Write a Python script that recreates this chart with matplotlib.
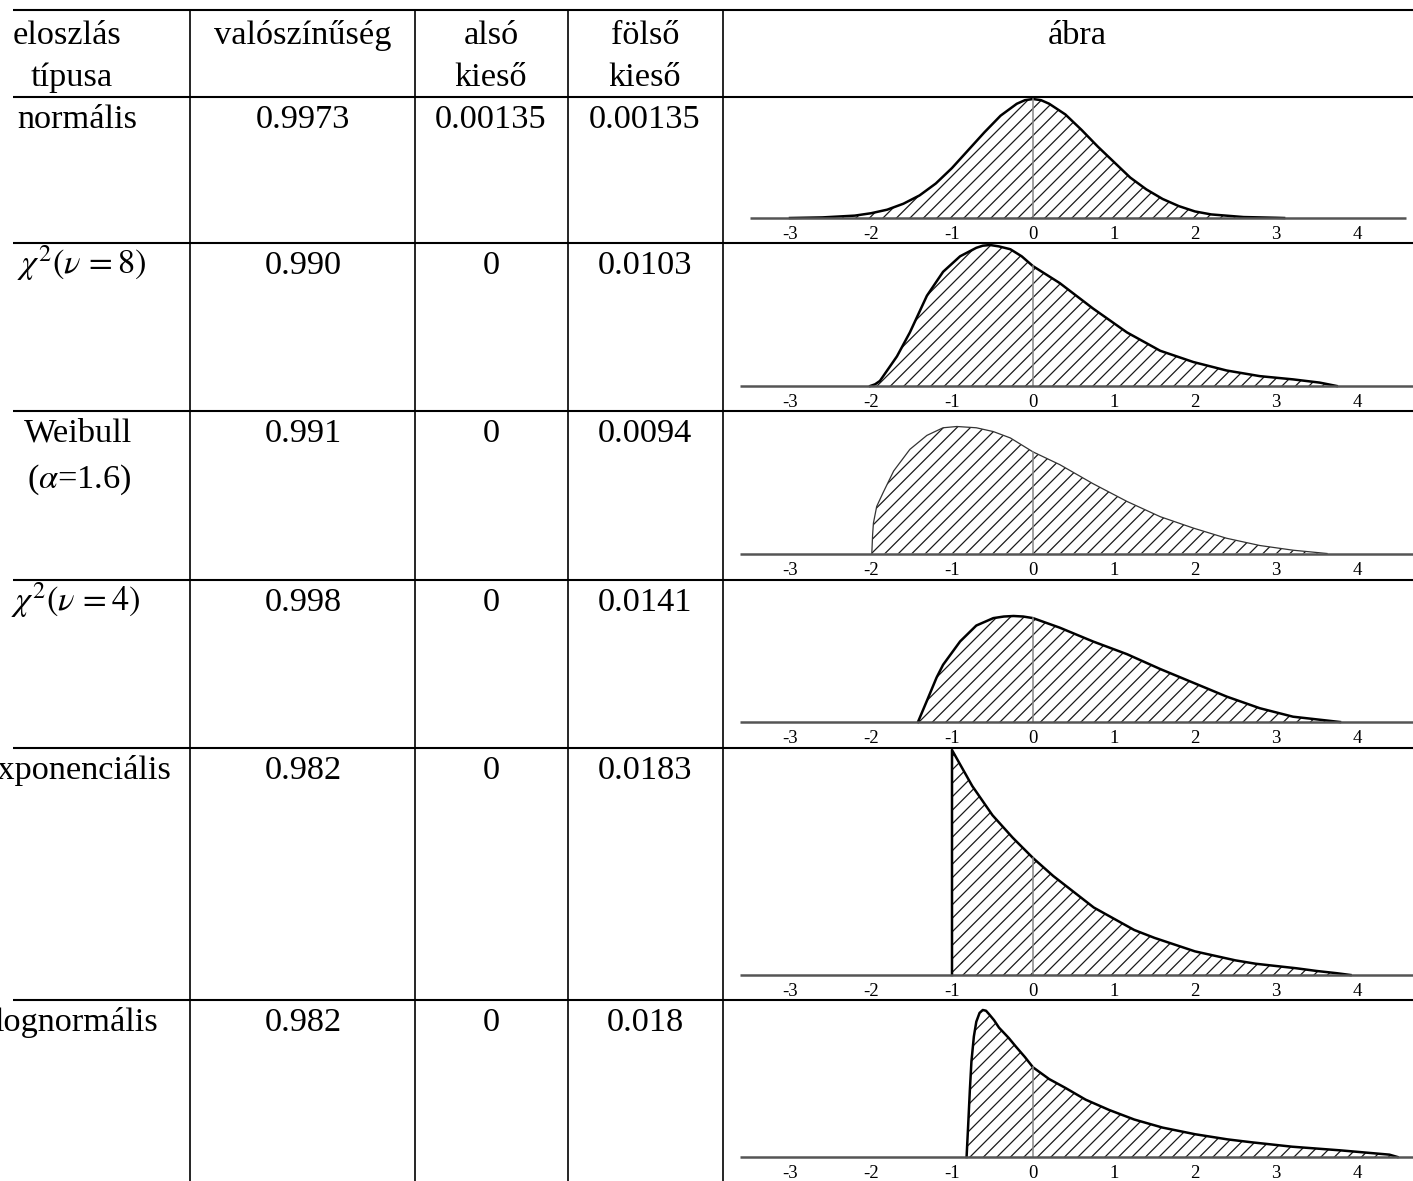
import matplotlib.pyplot as plt
from matplotlib.collections import LineCollection
import numpy as np

plt.rcParams['font.family'] = ['Liberation Serif', 'DejaVu Serif']
plt.rcParams['mathtext.fontset'] = 'stix'

# Table contents
header_left = ["eloszlás", "típusa"]
header_cols = ["valószínűség", "alsó\nkieső", "fölső\nkieső", "ábra"]
distributions = ["normális", r"$\chi^2(\nu\,=8)$", "Weibull\n(" + r"$\alpha$" + "=1.6)",
                 r"$\chi^2(\nu\,=4)$", "exponenciális", "lognormális"]
probability = ["0.9973", "0.990", "0.991", "0.998", "0.982", "0.982"]
lower_tail = ["0.00135", "0", "0", "0", "0", "0"]
upper_tail = ["0.00135", "0.0103", "0.0094", "0.0141", "0.0183", "0.018"]
tick_values = [-3, -2, -1, 0, 1, 2, 3, 4]

# Density curves (x in sd units, height relative to the peak)
normal_z = [-3.0, -2.6, -2.2, -2.0, -1.8, -1.6, -1.4, -1.2, -1.0, -0.8, -0.6, -0.4, -0.2, -0.1, 0.0,
            0.1, 0.2, 0.4, 0.6, 0.8, 1.0, 1.2, 1.4, 1.6, 1.8, 2.0, 2.2, 2.6, 3.0, 3.1]
normal_h = [0.0, 0.005, 0.02, 0.04, 0.07, 0.12, 0.19, 0.29, 0.42, 0.57, 0.72, 0.86, 0.96, 0.99, 1.0,
            0.99, 0.96, 0.87, 0.74, 0.60, 0.47, 0.34, 0.24, 0.16, 0.10, 0.055, 0.03, 0.008, 0.002, 0.0]

chi8_z = [-2.01, -1.95, -1.89, -1.68, -1.52, -1.31, -1.11, -0.90, -0.70, -0.62, -0.53, -0.42, -0.28,
          -0.14, 0.0, 0.33, 0.74, 1.16, 1.57, 1.98, 2.39, 2.80, 3.21, 3.54, 3.75]
chi8_h = [0.0, 0.012, 0.036, 0.21, 0.38, 0.64, 0.81, 0.92, 0.98, 0.995, 1.0, 0.99, 0.97,
          0.92, 0.85, 0.73, 0.55, 0.38, 0.25, 0.17, 0.11, 0.07, 0.047, 0.024, 0.0]

weib_z = [-1.99, -1.98, -1.97, -1.93, -1.85, -1.72, -1.52, -1.31, -1.11, -0.94, -0.70, -0.49, -0.28,
          0.0, 0.33, 0.74, 1.16, 1.57, 1.98, 2.39, 2.80, 3.21, 3.63]
weib_h = [0.0, 0.15, 0.24, 0.37, 0.48, 0.65, 0.82, 0.93, 0.99, 1.0, 0.99, 0.96, 0.91,
          0.80, 0.70, 0.55, 0.41, 0.29, 0.20, 0.12, 0.063, 0.026, 0.0]

chi4_z = [-1.42, -1.31, -1.19, -1.11, -0.90, -0.70, -0.49, -0.36, -0.24, -0.12, 0.0, 0.33, 0.74,
          1.16, 1.57, 1.98, 2.39, 2.80, 3.21, 3.79]
chi4_h = [0.0, 0.20, 0.42, 0.54, 0.76, 0.91, 0.98, 0.995, 1.0, 0.995, 0.98, 0.89, 0.76,
          0.64, 0.50, 0.37, 0.24, 0.13, 0.05, 0.0]

exp_z = [-1.0, -1.0, -0.75, -0.5, -0.25, 0.0, 0.25, 0.5, 0.75, 1.0, 1.25, 1.5, 1.75, 2.0,
         2.25, 2.5, 2.75, 3.0, 3.25, 3.5, 3.75, 3.92]
exp_h = [0.0, 1.0, 0.84, 0.71, 0.61, 0.52, 0.44, 0.37, 0.30, 0.25, 0.20, 0.165, 0.135, 0.105,
         0.085, 0.065, 0.05, 0.04, 0.03, 0.018, 0.008, 0.0]

logn_z = [-0.82, -0.80, -0.78, -0.76, -0.73, -0.70, -0.66, -0.62, -0.58, -0.54, -0.48, -0.42,
          -0.30, -0.21, -0.10, 0.0, 0.2, 0.4, 0.65, 0.94, 1.25, 1.6, 2.0, 2.4, 2.7, 3.2, 3.8, 4.4, 4.5]
logn_h = [0.0, 0.22, 0.45, 0.65, 0.82, 0.92, 0.98, 1.0, 0.995, 0.97, 0.93, 0.88,
          0.81, 0.75, 0.68, 0.61, 0.53, 0.47, 0.39, 0.32, 0.255, 0.20, 0.155, 0.12, 0.10, 0.07,
          0.045, 0.016, 0.0]

curves = [(normal_z, normal_h), (chi8_z, chi8_h), (weib_z, weib_h),
          (chi4_z, chi4_h), (exp_z, exp_h), (logn_z, logn_h)]

# Layout in pixels
W, H, DPI = 1413, 1181, 75
row_edges = [97, 243, 411, 580, 748, 1000, 1181]
axis_y = [218, 386, 553.5, 722, 975, 1157]
peak_px = [119, 141, 127, 106, 225, 147]
axis_span = [(-3.5, 4.6), (-3.62, 4.69), (-3.62, 4.69), (-3.62, 4.69), (-3.62, 4.69), (-3.62, 4.69)]
label_right = [137, 146, 132, 140, 172, 158]
col_x = [190, 415, 568, 723]
col_centers = [303, 491, 645, 1077]
zero_px, unit_px = 1033, 81
plot_left, plot_right = 723, W
hatch_step = 13.5
fs = 33

fig = plt.figure(figsize=(W / DPI, H / DPI), dpi=DPI)
bg = fig.add_axes([0, 0, 1, 1])
bg.set_xlim(0, W)
bg.set_ylim(H, 0)
bg.axis('off')

# Grid of the table
for y in [10] + row_edges[:-1]:
    bg.plot([13, W], [y, y], color='black', lw=2.0, solid_capstyle='butt', zorder=5)
for x in col_x:
    bg.plot([x, x], [10, H], color='black', lw=1.6, solid_capstyle='butt', zorder=5)

# Header
bg.text(13, 44, header_left[0], fontsize=fs, ha='left', va='baseline')
bg.text(72, 86, header_left[1], fontsize=fs, ha='center', va='baseline')
for cx, lab in zip(col_centers, header_cols):
    for k, line in enumerate(lab.split("\n")):
        bg.text(cx, 44 + 42 * k, line, fontsize=fs, ha='center', va='baseline')

# Rows with numbers
for i in range(6):
    base = row_edges[i] + 31
    for k, line in enumerate(distributions[i].split("\n")):
        bg.text(label_right[i], base + 46 * k, line, fontsize=fs, ha='right', va='baseline')
    bg.text(col_centers[0], base, probability[i], fontsize=fs, ha='center', va='baseline')
    bg.text(col_centers[1], base, lower_tail[i], fontsize=fs, ha='center', va='baseline')
    bg.text(col_centers[2], base, upper_tail[i], fontsize=fs, ha='center', va='baseline')

# 45 degree hatch lines (in pixels), clipped to each filled area below
starts = np.arange(plot_left - H, W, hatch_step)
hatch_segs = [[(x0, H), (x0 + H, 0)] for x0 in starts]

# Small density plots
for i, (z, h) in enumerate(curves):
    top, bottom = row_edges[i], row_edges[i + 1]
    ax = fig.add_axes([plot_left / W, 1 - bottom / H, (plot_right - plot_left) / W, (bottom - top) / H])
    ax.set_xlim((plot_left - zero_px) / unit_px, (plot_right - zero_px) / unit_px)
    ax.set_ylim(-(bottom - axis_y[i]) / peak_px[i], (axis_y[i] - top) / peak_px[i])
    ax.axis('off')
    ax.patch.set_alpha(0)

    z = np.array(z)
    h = np.array(h)
    area = ax.fill_between(z, 0, h, facecolor='none', lw=0)
    lc = LineCollection(hatch_segs, colors='#1a1a1a', linewidths=1.2, transform=bg.transData)
    ax.add_collection(lc, autolim=False)
    lc.set_clip_path(area.get_paths()[0], ax.transData)

    if i == 2:
        ax.plot(z, h, color='#333333', lw=1.2)
    else:
        ax.plot(z, h, color='black', lw=2.4, solid_joinstyle='round')
    ax.plot([0, 0], [0, np.interp(0, z, h)], color='#8a8a8a', lw=1.5)
    ax.plot(list(axis_span[i]), [0, 0], color='#555555', lw=2.4, solid_capstyle='butt')
    for v in tick_values:
        ax.annotate(str(v), xy=(v, 0), xytext=(0, -16), textcoords='offset points',
                    ha='center', va='center', fontsize=18, annotation_clip=False)

fig.savefig("out.png", dpi=DPI)
